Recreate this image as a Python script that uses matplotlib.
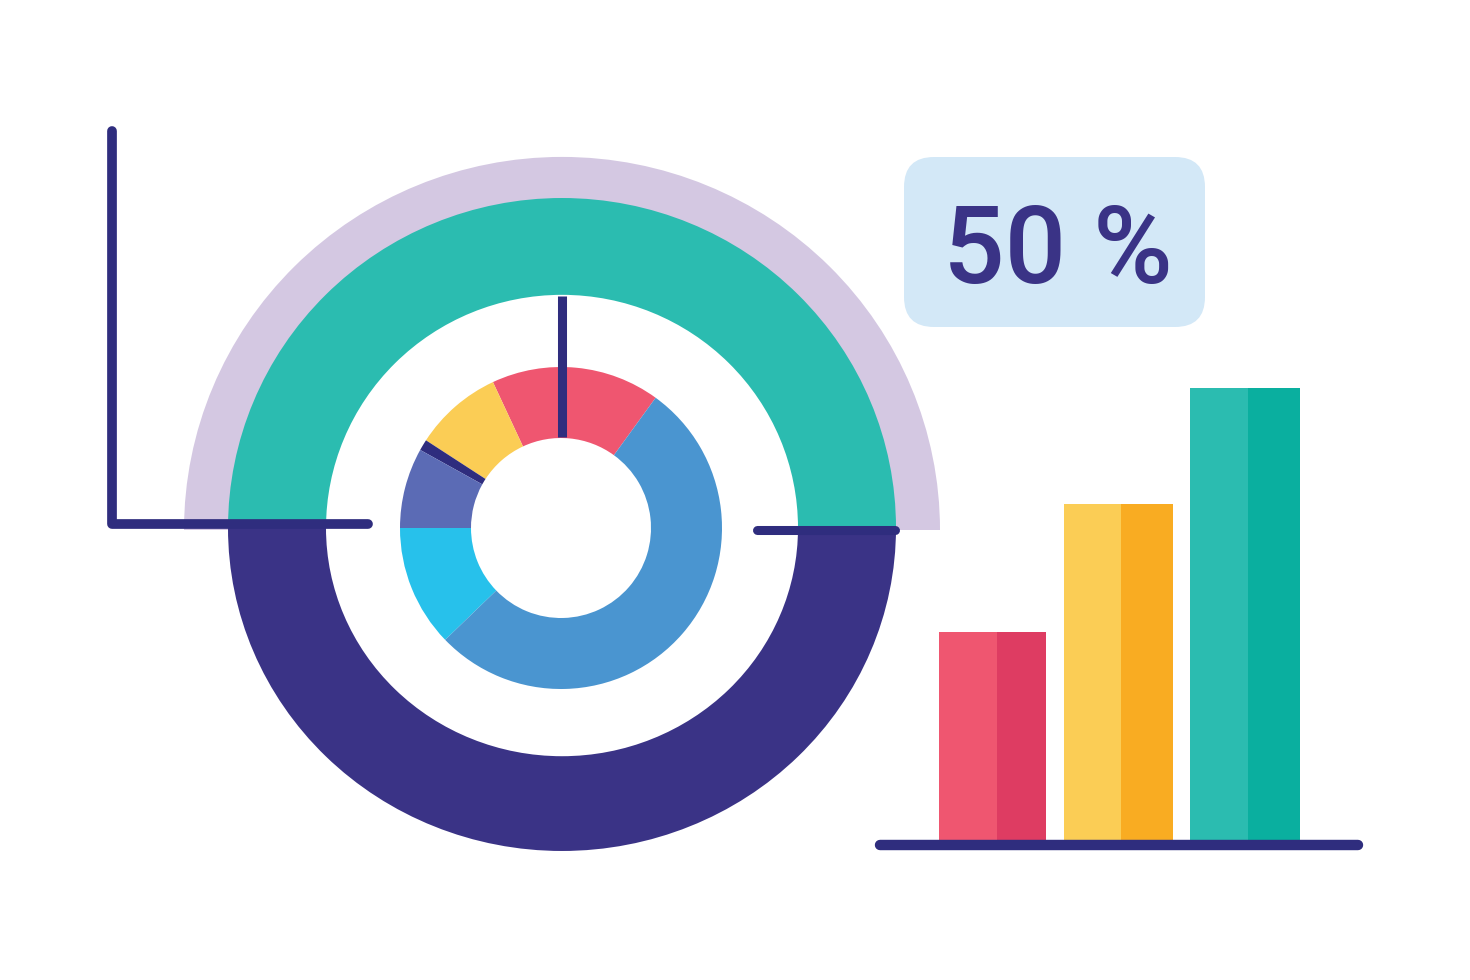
import numpy as np
import matplotlib.pyplot as plt
from matplotlib.patches import FancyBboxPatch
from matplotlib.transforms import Affine2D

W, H = 1470, 980

# gauge: upper half vs lower half, shown as "50 %"
gauge_share = [50, 50]
gauge_label = "50 %"

# inner donut slices (degrees of the ring), counter-clockwise from the top-right
donut_vals = [61, 32, 4, 29, 44, 190]
donut_cols = ['#ef5670', '#fbcd55', '#2f2d7e', '#5b6bb5', '#27c1eb', '#4a95d0']

# bar chart on the right
bar_vals = [210, 338, 454]
bar_light = ['#ef5670', '#fbcd55', '#2bbcb0']
bar_dark = ['#de3c62', '#f9ac22', '#0aaf9f']

navy = '#2f2d7e'

def fy(y):
    # image row -> data y (y up)
    return H - y

def squash(patch, c, sy):
    # the drawing is a little flatter vertically than a true circle
    t = Affine2D().translate(-c[0], -c[1]).scale(1, sy).translate(c[0], c[1])
    patch.set_transform(t + ax.transData)

fig = plt.figure(figsize=(14.7, 9.8), dpi=100)
ax = fig.add_axes([0, 0, 1, 1])

cx, cy = 562, fy(528)

# lavender outer arc (top half only)
lav, _ = ax.pie(gauge_share, colors=['#d4c8e2', 'none'], startangle=0, center=(cx, fy(530)),
                radius=378, wedgeprops=dict(width=46, linewidth=0))
squash(lav[0], (cx, fy(530)), 0.987)
# green top / navy bottom ring
ring, _ = ax.pie(gauge_share, colors=['#2bbcb0', '#3a3386'], startangle=0, center=(cx, cy),
                 radius=334, wedgeprops=dict(width=98, linewidth=0))
squash(ring[0], (cx, cy), 0.988)
squash(ring[1], (cx, cy), 0.967)
# small donut
ax.pie(donut_vals, colors=donut_cols, startangle=54, center=(561, fy(528)),
       radius=161, wedgeprops=dict(width=71, linewidth=0))

# needle
ax.plot([562, 562], [fy(296), fy(437)], color=navy, lw=6.5, solid_capstyle='butt')

# hand drawn axis on the left
ax.plot([112, 112, 368], [fy(131), fy(524), fy(524)], color=navy, lw=7,
        solid_capstyle='round', solid_joinstyle='round')
# short tick on the right of the gauge
ax.plot([757, 895], [fy(530), fy(530)], color=navy, lw=6.5, solid_capstyle='round')

# bars
base = fy(842)
lefts = np.array([939, 1064, 1190])
half_w = np.array([58, 57, 58])
full_w = np.array([107, 109, 110])
ax.bar(lefts, bar_vals, width=half_w, bottom=base, align='edge', color=bar_light, linewidth=0)
ax.bar(lefts + half_w, bar_vals, width=full_w - half_w, bottom=base, align='edge',
       color=bar_dark, linewidth=0)
ax.plot([880, 1358], [fy(845), fy(845)], color=navy, lw=7.5, solid_capstyle='round')

# percentage badge
badge = FancyBboxPatch((904 + 30, fy(327) + 30), 301 - 60, 170 - 60,
                       boxstyle='round,pad=30', fc='#d3e8f7', ec='none')
ax.add_patch(badge)
ax.text(1058, fy(283), gauge_label, ha='center', va='baseline', fontsize=78,
        family='Roboto', weight='medium', color='#3a3386')

ax.set_xlim(0, W)
ax.set_ylim(0, H)
ax.set_aspect('auto')
ax.axis('off')

fig.savefig('out.png', dpi=100, facecolor='white')
